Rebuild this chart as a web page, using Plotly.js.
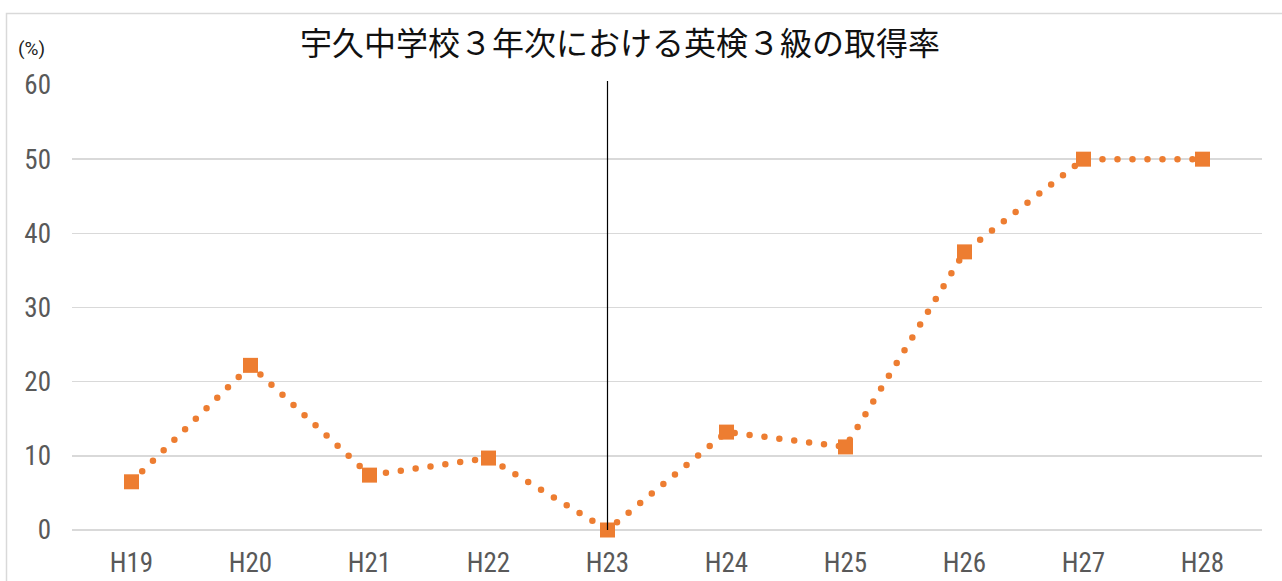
<!DOCTYPE html>
<html>
<head>
<meta charset="utf-8">
<script src="https://cdn.plot.ly/plotly-3.0.1.min.js"></script>
<style>
  html, body { margin: 0; padding: 0; background: #fff; }
  #chart { width: 1282px; height: 581px; }
  /* 丸い点線にする */
  .scatterlayer .js-line { stroke-linecap: round !important; }
  /* 目盛りラベルは細め */
  .xtick text, .ytick text { font-stretch: 75%; }
</style>
</head>
<body>
<div id="chart"></div>
<script>
// データ
const years = ['H19', 'H20', 'H21', 'H22', 'H23', 'H24', 'H25', 'H26', 'H27', 'H28'];
const rates = [6.5, 22.2, 7.4, 9.7, 0, 13.2, 11.2, 37.5, 50, 50];
const yTicks = [0, 10, 20, 30, 40, 50, 60];
const markedYear = 'H23';

const W = 1282, H = 581;
const M = { l: 72, r: 20, t: 85, b: 51 };
const plotW = W - M.l - M.r;
const plotH = H - M.t - M.b;

// 画素位置 → paper座標
function px(x) { return (x - M.l) / plotW; }
function py(y) { return 1 - (y - M.t) / plotH; }

const tickFont = { family: 'Roboto, "Liberation Sans Narrow", sans-serif', size: 27, color: '#595959' };

const trace = {
    x: years,
    y: rates,
    type: 'scatter',
    mode: 'lines+markers',
    line: { color: '#ED7D31', width: 6.5, dash: '0px,15px' },
    marker: { symbol: 'square', size: 15, color: '#ED7D31', line: { width: 0 } },
    hoverinfo: 'x+y',
    cliponaxis: false
};

const layout = {
    width: W,
    height: H,
    margin: M,
    paper_bgcolor: '#fff',
    plot_bgcolor: '#fff',
    showlegend: false,
    title: {
        text: '宇久中学校３年次における英検３級の取得率',
        font: { family: '"Noto Sans CJK JP", sans-serif', size: 32, color: '#111' },
        x: px(620), xref: 'paper', xanchor: 'center',
        y: 1 - 44 / H, yanchor: 'middle'
    },
    xaxis: {
        type: 'category',
        range: [-0.5, years.length - 0.5],
        showgrid: false,
        zeroline: false,
        showline: false,
        ticks: '',
        tickfont: tickFont,
        ticklabelstandoff: 14,
        fixedrange: true
    },
    yaxis: {
        range: [0, 60],
        tickvals: yTicks,
        ticktext: yTicks.map(String),
        showgrid: true,
        gridcolor: '#d9d9d9',
        gridwidth: 1.5,
        zeroline: true,
        zerolinecolor: '#d9d9d9',
        zerolinewidth: 1.5,
        showline: false,
        ticks: '',
        tickfont: tickFont,
        ticklabelstandoff: 20,
        fixedrange: true
    },
    annotations: [{
        text: '(%)',
        xref: 'paper', yref: 'paper',
        x: px(31), y: py(48),
        xanchor: 'center', yanchor: 'middle',
        showarrow: false,
        font: { family: 'Roboto, sans-serif', size: 19, color: '#222' }
    }],
    shapes: [
        // グラフの枠
        {
            type: 'rect', xref: 'paper', yref: 'paper',
            x0: px(6.5), x1: px(W + 20), y0: py(H + 20), y1: py(13.5),
            line: { color: '#d9d9d9', width: 1.5 },
            layer: 'below'
        },
        // H23の縦線
        {
            type: 'line', xref: 'x', yref: 'paper',
            x0: years.indexOf(markedYear), x1: years.indexOf(markedYear),
            y0: 0, y1: py(81),
            line: { color: '#000', width: 1.2 },
            layer: 'above'
        }
    ]
};

Plotly.newPlot('chart', [trace], layout, { displayModeBar: false, staticPlot: true });
</script>
</body>
</html>
